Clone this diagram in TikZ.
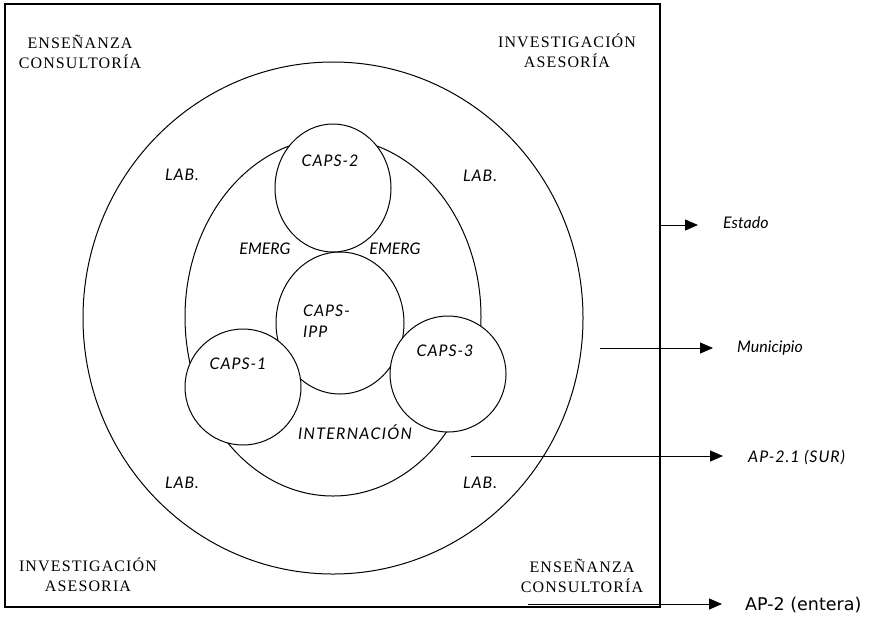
\documentclass[tikz,border=0pt]{standalone}
\usepackage{fontspec}
\setmainfont{Liberation Serif}
\newfontfamily\romanls{Liberation Serif}[LetterSpace=7]
\newfontfamily\gill{Lato}
\newfontfamily\verd{DejaVu Sans}
\usetikzlibrary{arrows.meta,shapes.geometric}
\begin{document}
\begin{tikzpicture}[x=1pt,y=-1pt,
  ring/.style={draw, ellipse, line width=1pt, inner sep=0pt, fill=white},
  frame/.style={draw, line width=1.2pt, inner sep=0pt},
  roman/.style={font=\romanls\fontsize{16}{20}\selectfont, align=center, inner sep=0pt},
  lbl/.style={font=\gill\itshape\fontsize{16}{21}\selectfont, inner sep=0pt},
  capslbl/.style={lbl, font=\gill\itshape\fontsize{16}{21}\selectfont\addfontfeatures{LetterSpace=6}},
  widelbl/.style={lbl, font=\gill\itshape\fontsize{16}{21}\selectfont\addfontfeatures{LetterSpace=8}},
  plain/.style={font=\verd\fontsize{17.5}{21}\selectfont, inner sep=0pt},
  arr/.style={-{Triangle[length=13pt,width=11pt]}, line width=1pt}
]
\useasboundingbox (0,0) rectangle (872,633);
% frame
\node[frame, minimum width=655pt, minimum height=603pt] (box) at (332.5,305.5) {};
% rings
\node[ring, minimum width=500pt, minimum height=512pt] (outer) at (333,318) {};
\node[ring, minimum width=296pt, minimum height=358pt] (inner) at (333,317) {};
\node[ring, minimum width=128pt, minimum height=142pt] (ipp) at (340,323) {};
\node[ring, minimum width=116pt, minimum height=128pt] (caps2) at (333,188) {};
\node[ring, minimum width=116pt, minimum height=116pt] (caps1) at (243,387) {};
\node[ring, minimum width=116pt, minimum height=116pt] (caps3) at (448,374) {};
% corner texts
\node[roman] (tl) at (80,52) {ENSEÑANZA\\CONSULTORÍA};
\node[roman] (tr) at (567,51) {INVESTIGACIÓN\\ASESORÍA};
\node[roman] (bl) at (88,575) {INVESTIGACIÓN\\ASESORIA};
\node[roman] (br) at (582,576) {ENSEÑANZA\\CONSULTORÍA};
% inner labels
\node[capslbl, anchor=base] (t2) at (330,166) {CAPS-2};
\node[lbl, anchor=base] (em1) at (265,254) {EMERG};
\node[lbl, anchor=base] (em2) at (395,254) {EMERG};
\node[capslbl, anchor=west, align=left] (tipp) at (303,321) {CAPS-\\IPP};
\node[capslbl, anchor=base] (t1) at (238,369) {CAPS-1};
\node[capslbl, anchor=base] (t3) at (445,356) {CAPS-3};
\node[widelbl, anchor=base] (tint) at (355,439) {INTERNACIÓN};
\node[capslbl, anchor=base] (lab1) at (182,180) {LAB.};
\node[capslbl, anchor=base] (lab2) at (480,181) {LAB.};
\node[capslbl, anchor=base] (lab3) at (182,488) {LAB.};
\node[capslbl, anchor=base] (lab4) at (480,488) {LAB.};
% right side
\node[lbl, anchor=base west] (estado) at (723,228) {Estado};
\node[lbl, anchor=base west] (muni) at (737,352) {Municipio};
\node[capslbl, anchor=base west] (ap21) at (748,462) {AP-2.1 (SUR)};
\node[plain, anchor=base west] (ap2) at (745,610) {AP-2 (entera)};
\coordinate (s1) at (660,225);
\coordinate (e1) at (698,225);
\coordinate (s2) at (600,348);
\coordinate (e2) at (713,348);
\coordinate (s3) at (471,456);
\coordinate (e3) at (723,456);
\coordinate (s4) at (528,604);
\coordinate (e4) at (722,604);
\draw[arr] (s1) -- (e1);
\draw[arr] (s2) -- (e2);
\draw[arr] (s3) -- (e3);
\draw[arr] (s4) -- (e4);
\end{tikzpicture}
\end{document}
